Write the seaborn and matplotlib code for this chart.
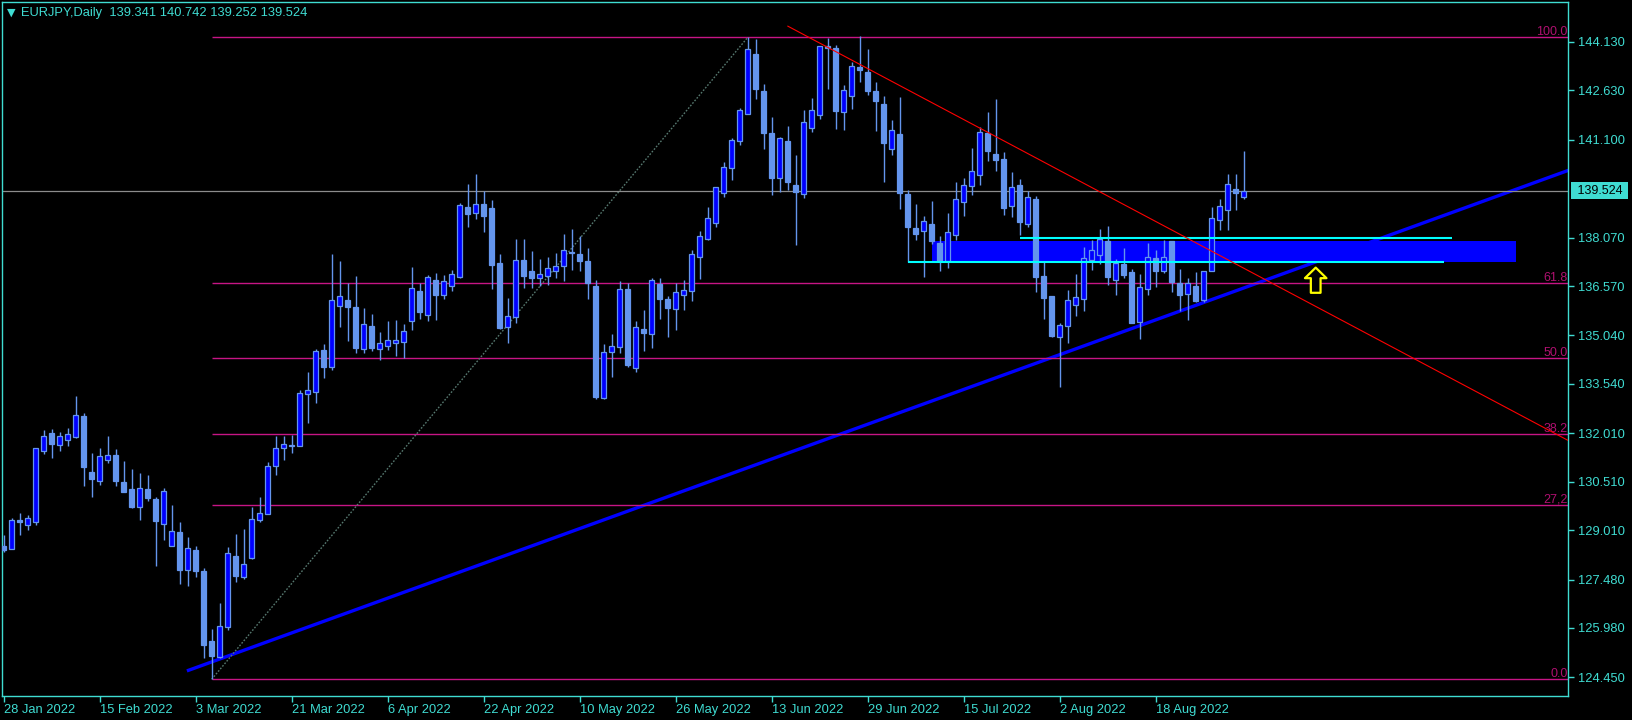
import numpy as np
import pandas as pd
import matplotlib
matplotlib.use('Agg')
import matplotlib.pyplot as plt
import matplotlib.transforms as mtransforms
import seaborn as sns

# EURJPY daily bars, first bar is 28 Jan 2022 (business days)
FIRST_DAY = '2022-01-28'

OPENS = [128.52, 128.44, 129.32, 129.18, 129.27, 131.47, 132.02, 131.66, 131.81, 131.89,
         132.54, 130.81, 130.54, 131.18, 131.34, 130.50, 130.28, 129.73, 130.28, 129.97,
         129.20, 128.52, 128.95, 127.78, 128.40, 127.75, 125.58, 125.07, 126.02, 128.21,
         127.57, 128.16, 129.33, 129.52, 131.01, 131.54, 131.64, 131.63, 133.22, 133.30,
         134.59, 134.07, 135.96, 136.14, 135.92, 134.61, 135.32, 134.61, 134.70, 134.79,
         134.85, 135.50, 136.41, 135.68, 136.75, 136.30, 136.56, 136.86, 139.02, 138.82,
         139.11, 138.99, 137.28, 135.29, 135.61, 137.38, 137.04, 136.81, 136.87, 137.03,
         137.18, 137.62, 137.55, 137.35, 136.57, 133.11, 134.54, 134.69, 136.47, 134.04,
         135.23, 135.07, 136.62, 136.16, 135.85, 136.28, 136.41, 137.46, 138.02, 138.51,
         139.44, 140.22, 141.05, 141.89, 143.76, 142.61, 141.31, 139.93, 141.05, 139.70,
         139.41, 141.45, 141.88, 143.99, 143.94, 141.97, 142.47, 143.35, 143.21, 142.62,
         142.21, 140.82, 141.27, 139.42, 138.36, 138.26, 138.48, 137.90, 137.36, 138.14,
         139.16, 139.66, 140.02, 141.30, 140.66, 140.49, 139.04, 139.69, 138.48, 139.26,
         136.88, 136.25, 135.00, 135.34, 135.99, 136.18, 137.39, 137.54, 137.96, 136.77,
         137.24, 136.99, 135.47, 136.47, 137.43, 137.02, 137.96, 136.67, 136.31, 136.57,
         136.15, 137.05, 138.60, 138.91, 139.56, 139.341]
HIGHS = [128.86, 129.38, 129.53, 129.47, 131.55, 132.11, 132.14, 132.05, 132.17, 133.16,
         132.63, 131.40, 131.54, 131.93, 131.52, 131.15, 130.90, 130.78, 130.72, 130.04,
         130.32, 129.79, 129.26, 128.80, 128.52, 127.83, 125.95, 126.75, 128.49, 128.89,
         129.05, 129.74, 130.04, 131.11, 131.93, 131.93, 131.96, 133.34, 133.91, 134.61,
         134.78, 137.56, 137.35, 136.66, 136.88, 135.89, 135.70, 135.15, 135.49, 135.52,
         135.39, 137.16, 136.67, 136.91, 136.97, 136.90, 137.07, 139.13, 139.73, 140.04,
         139.51, 139.22, 137.56, 136.21, 138.03, 138.03, 137.66, 137.41, 137.47, 137.59,
         138.18, 138.34, 138.12, 137.75, 136.76, 134.78, 135.08, 136.72, 136.65, 135.49,
         135.83, 136.82, 136.82, 136.26, 136.66, 136.75, 137.69, 138.27, 139.02, 139.65,
         140.41, 141.15, 142.07, 144.27, 144.21, 142.83, 141.81, 141.18, 141.53, 140.63,
         142.02, 142.39, 144.01, 144.24, 144.03, 142.79, 143.50, 144.30, 143.91, 142.89,
         142.46, 141.71, 142.41, 139.54, 139.11, 138.74, 139.20, 138.12, 138.83, 139.78,
         139.91, 140.85, 141.49, 141.96, 142.36, 140.71, 140.10, 139.87, 139.52, 139.35,
         137.32, 136.27, 135.43, 136.45, 136.94, 137.78, 137.98, 138.34, 138.43, 137.41,
         137.75, 137.09, 136.93, 137.90, 137.69, 138.00, 137.96, 137.10, 136.82, 137.00,
         137.05, 139.02, 139.26, 140.03, 140.03, 140.742]
LOWS = [128.34, 128.43, 128.86, 129.01, 129.18, 131.37, 131.24, 131.46, 131.62, 131.86,
        130.38, 130.04, 130.41, 131.09, 130.38, 130.18, 129.70, 129.32, 129.91, 127.90,
        128.70, 128.51, 127.34, 127.28, 127.56, 125.06, 124.39, 125.04, 125.93, 127.41,
        127.51, 128.13, 129.27, 129.51, 130.73, 131.19, 131.39, 131.60, 132.34, 132.96,
        133.73, 133.98, 135.31, 134.88, 134.51, 134.51, 134.57, 134.29, 134.59, 134.41,
        134.35, 135.22, 135.56, 135.50, 135.53, 136.18, 136.43, 136.83, 138.41, 138.66,
        138.25, 136.49, 135.25, 134.79, 135.44, 136.52, 136.52, 136.58, 136.61, 136.83,
        136.74, 137.08, 137.05, 136.18, 133.06, 133.06, 133.76, 134.51, 134.07, 133.92,
        134.57, 134.66, 135.56, 135.00, 135.22, 135.84, 136.12, 136.80, 138.01, 138.41,
        139.34, 139.86, 140.95, 141.89, 142.36, 140.82, 139.40, 139.49, 139.54, 137.85,
        139.31, 141.33, 141.75, 142.67, 141.44, 141.41, 142.06, 142.90, 142.50, 141.38,
        139.80, 140.64, 138.97, 137.32, 138.01, 136.86, 137.88, 137.05, 137.14, 138.01,
        138.75, 139.40, 139.71, 140.45, 140.14, 138.78, 138.72, 138.14, 138.41, 136.40,
        135.56, 134.98, 133.45, 134.82, 135.65, 135.80, 137.08, 137.26, 136.61, 136.30,
        136.83, 135.42, 134.94, 136.28, 136.55, 136.98, 136.39, 135.80, 135.53, 136.09,
        136.09, 137.05, 138.30, 138.30, 138.93, 139.252]
CLOSES = [128.40, 129.31, 129.26, 129.38, 131.54, 131.92, 131.68, 131.93, 131.98, 132.58,
          130.97, 130.59, 131.31, 131.34, 130.53, 130.19, 129.73, 130.32, 130.01, 129.29,
          130.22, 128.98, 127.78, 128.46, 127.75, 125.45, 125.11, 126.03, 128.29, 127.60,
          127.95, 129.35, 129.53, 130.99, 131.54, 131.67, 131.60, 133.25, 133.34, 134.55,
          134.07, 136.13, 136.25, 135.93, 134.66, 135.38, 134.66, 134.80, 134.89, 134.89,
          135.17, 136.50, 135.75, 136.84, 136.30, 136.72, 136.93, 139.07, 138.81, 139.10,
          138.75, 137.23, 135.27, 135.64, 137.38, 136.89, 136.83, 136.93, 137.12, 137.18,
          137.68, 137.60, 137.36, 136.65, 133.14, 134.52, 134.70, 136.47, 134.13, 135.29,
          135.10, 136.75, 136.18, 135.90, 136.38, 136.44, 137.55, 138.11, 138.67, 139.63,
          140.25, 141.08, 142.01, 143.90, 142.67, 141.32, 139.90, 141.14, 139.80, 139.49,
          141.64, 142.01, 143.99, 143.93, 142.00, 142.63, 143.37, 143.27, 142.62, 142.31,
          141.01, 141.39, 139.46, 138.41, 138.19, 138.57, 137.97, 137.35, 138.23, 139.26,
          139.69, 140.12, 141.33, 140.76, 140.48, 139.00, 139.65, 138.54, 139.32, 136.86,
          136.21, 135.02, 135.35, 136.13, 136.22, 137.43, 137.68, 138.03, 136.86, 137.27,
          136.92, 135.44, 136.53, 137.46, 137.05, 137.46, 136.68, 136.30, 136.67, 136.11,
          137.03, 138.67, 139.04, 139.72, 139.44, 139.524]

PRICE_TICKS = [144.130, 142.630, 141.100, 138.070, 136.570, 135.040, 133.540,
               132.010, 130.510, 129.010, 127.480, 125.980, 124.450]

# fibonacci drawn from the March low to the June high
FIB_BARS = [26, 93]
FIB_PRICES = [124.39, 144.27]
FIB_LEVELS = [0.0, 27.2, 38.2, 50.0, 61.8, 100.0]
FIB_LABELS = ['0.0', '27,2', '38.2', '50.0', '61.8', '100.0']

# hand drawn objects
UP_TREND_BARS = [22.9, 150]
UP_TREND_PRICES = [124.65, 136.06]
DOWN_TREND_BARS = [98, 150]
DOWN_TREND_PRICES = [144.62, 137.78]
ZONE_BARS = [116, 189]
ZONE_PRICES = [137.32, 137.97]
TOP_LINE_BARS = [127, 181]
TOP_LINE_PRICE = 138.05
BOTTOM_LINE_BARS = [113, 180]
BOTTOM_LINE_PRICE = 137.32
ARROW_BAR = 164
ARROW_PRICES = [136.36, 137.14]

TURQ = '#3FDCD2'
CORNFLOWER = '#6495ED'
BULL = '#0000FF'
FIB_COLOR = '#C71585'

X_RANGE = [-0.15, 195.6]
Y_RANGE = [123.885, 145.357]


def make_frame():
    '''
    Puts the bars in a DataFrame with the bar number and the date.
    '''
    df = pd.DataFrame({'open': OPENS, 'high': HIGHS,
                       'low': LOWS, 'close': CLOSES})
    df['bar'] = np.arange(len(df))
    df['date'] = pd.bdate_range(FIRST_DAY, periods=len(df))
    return df


def ray(bars, prices, right):
    '''
    Extends a two point trend line up to the right edge.
    '''
    slope = (prices[1] - prices[0]) / (bars[1] - bars[0])
    return [bars[0], right], [prices[0], prices[0] + slope * (right - bars[0])]


def draw_candles(ax, df):
    bull = df['close'] >= df['open']
    ax.vlines(df['bar'], df['low'], df['high'], color=CORNFLOWER,
              linewidth=1.0, zorder=3)
    bottom = np.minimum(df['open'], df['close'])
    height = np.maximum((df['close'] - df['open']).abs(), 0.02)
    ax.bar(df['bar'], height, bottom=bottom, width=0.62,
           color=np.where(bull, BULL, CORNFLOWER), edgecolor=CORNFLOWER,
           linewidth=0.9, zorder=4)


def draw_objects(ax, df):
    right = X_RANGE[1]

    # fibonacci levels
    low, high = FIB_PRICES
    for level, label in zip(FIB_LEVELS, FIB_LABELS):
        price = low + (high - low) * level / 100
        ax.hlines(price, FIB_BARS[0], right, color=FIB_COLOR,
                  linewidth=1, zorder=2)
        ax.annotate(label, xy=(0.9995, price),
                    xycoords=('axes fraction', 'data'),
                    xytext=(0, 1.5), textcoords='offset points',
                    ha='right', va='baseline', color='#B01070', fontsize=9)
    sns.lineplot(x=FIB_BARS, y=FIB_PRICES, ax=ax, color='#56786F',
                 linestyle=(0, (1.2, 1.2)), linewidth=1.0, zorder=2)

    # current price
    last = df['close'].iloc[-1]
    ax.axhline(last, color='#8C8C8C', linewidth=0.9, zorder=2)
    trans = mtransforms.blended_transform_factory(ax.transAxes, ax.transData)
    ax.text(1.0032, last, ' %.3f ' % last, transform=trans, ha='left',
            va='center', color='black', fontsize=9, zorder=10, clip_on=False,
            bbox=dict(boxstyle='square,pad=0.2', fc=TURQ, ec='none'))

    # support line, zone, resistance lines
    x, y = ray(UP_TREND_BARS, UP_TREND_PRICES, right)
    sns.lineplot(x=x, y=y, ax=ax, color=BULL, linewidth=2.4, zorder=1,
                 solid_capstyle='butt')
    ax.fill_between(ZONE_BARS, ZONE_PRICES[0], ZONE_PRICES[1], color=BULL,
                    linewidth=0, zorder=1.5)
    ax.hlines(TOP_LINE_PRICE, TOP_LINE_BARS[0], TOP_LINE_BARS[1],
              color='#00FFFF', linewidth=1.5, zorder=5)
    ax.hlines(BOTTOM_LINE_PRICE, BOTTOM_LINE_BARS[0], BOTTOM_LINE_BARS[1],
              color='#00FFFF', linewidth=1.5, zorder=5)
    x, y = ray(DOWN_TREND_BARS, DOWN_TREND_PRICES, right)
    sns.lineplot(x=x, y=y, ax=ax, color='#FF0000', linewidth=0.8, zorder=6)

    # arrow under the zone
    ax.annotate('', xy=(ARROW_BAR, ARROW_PRICES[1]),
                xytext=(ARROW_BAR, ARROW_PRICES[0]),
                arrowprops=dict(arrowstyle='simple,head_length=7.6,'
                                'head_width=15.5,tail_width=7.0',
                                mutation_scale=1, fc='black', ec='#FFFF00',
                                lw=1.6, shrinkA=0, shrinkB=0),
                zorder=7)


def style_axes(ax, df):
    ax.set_xlim(X_RANGE)
    ax.set_ylim(Y_RANGE)
    ax.set_facecolor('black')
    for spine in ax.spines.values():
        spine.set_color(TURQ)
        spine.set_linewidth(1)
        spine.set_visible(True)

    ax.yaxis.tick_right()
    ax.set_yticks(PRICE_TICKS)
    ax.set_yticklabels(['%.3f' % p for p in PRICE_TICKS])
    ax.tick_params(axis='y', right=True, left=False, length=4, width=1,
                   pad=3, colors=TURQ, labelsize=9.3)

    ticks = df['bar'][::12]
    dates = df['date'][::12]
    ax.set_xticks(ticks)
    ax.set_xticklabels(['%d %s' % (d.day, d.strftime('%b %Y'))
                        for d in dates])
    ax.tick_params(axis='x', bottom=True, length=4, width=1, pad=2,
                   colors=TURQ, labelsize=9.3)
    for label in ax.get_xticklabels():
        label.set_ha('left')
    ax.set_xlabel('')
    ax.set_ylabel('')
    ax.grid(False)


def main():
    sns.set_theme(style='dark', rc={'figure.facecolor': 'black',
                                    'axes.facecolor': 'black'})
    plt.rcParams['font.family'] = ['Liberation Sans', 'DejaVu Sans']

    df = make_frame()

    fig = plt.figure(figsize=(16.33, 7.2), dpi=100)
    ax = fig.add_axes([2.5 / 1633, 24.4 / 720, 1566 / 1633, 693.3 / 720])

    draw_candles(ax, df)
    draw_objects(ax, df)
    style_axes(ax, df)

    last = df.iloc[-1]
    fig.text(6.5 / 1633, 1 - 13 / 720, '\u25bc', color=TURQ, fontsize=8,
             va='center', family='DejaVu Sans')
    fig.text(21.5 / 1633, 1 - 13 / 720,
             'EURJPY,Daily  %.3f %.3f %.3f %.3f'
             % (last['open'], last['high'], last['low'], last['close']),
             color=TURQ, fontsize=9.3, va='center')

    fig.savefig('out.png', dpi=100, facecolor='black')


if __name__ == '__main__':
    main()
